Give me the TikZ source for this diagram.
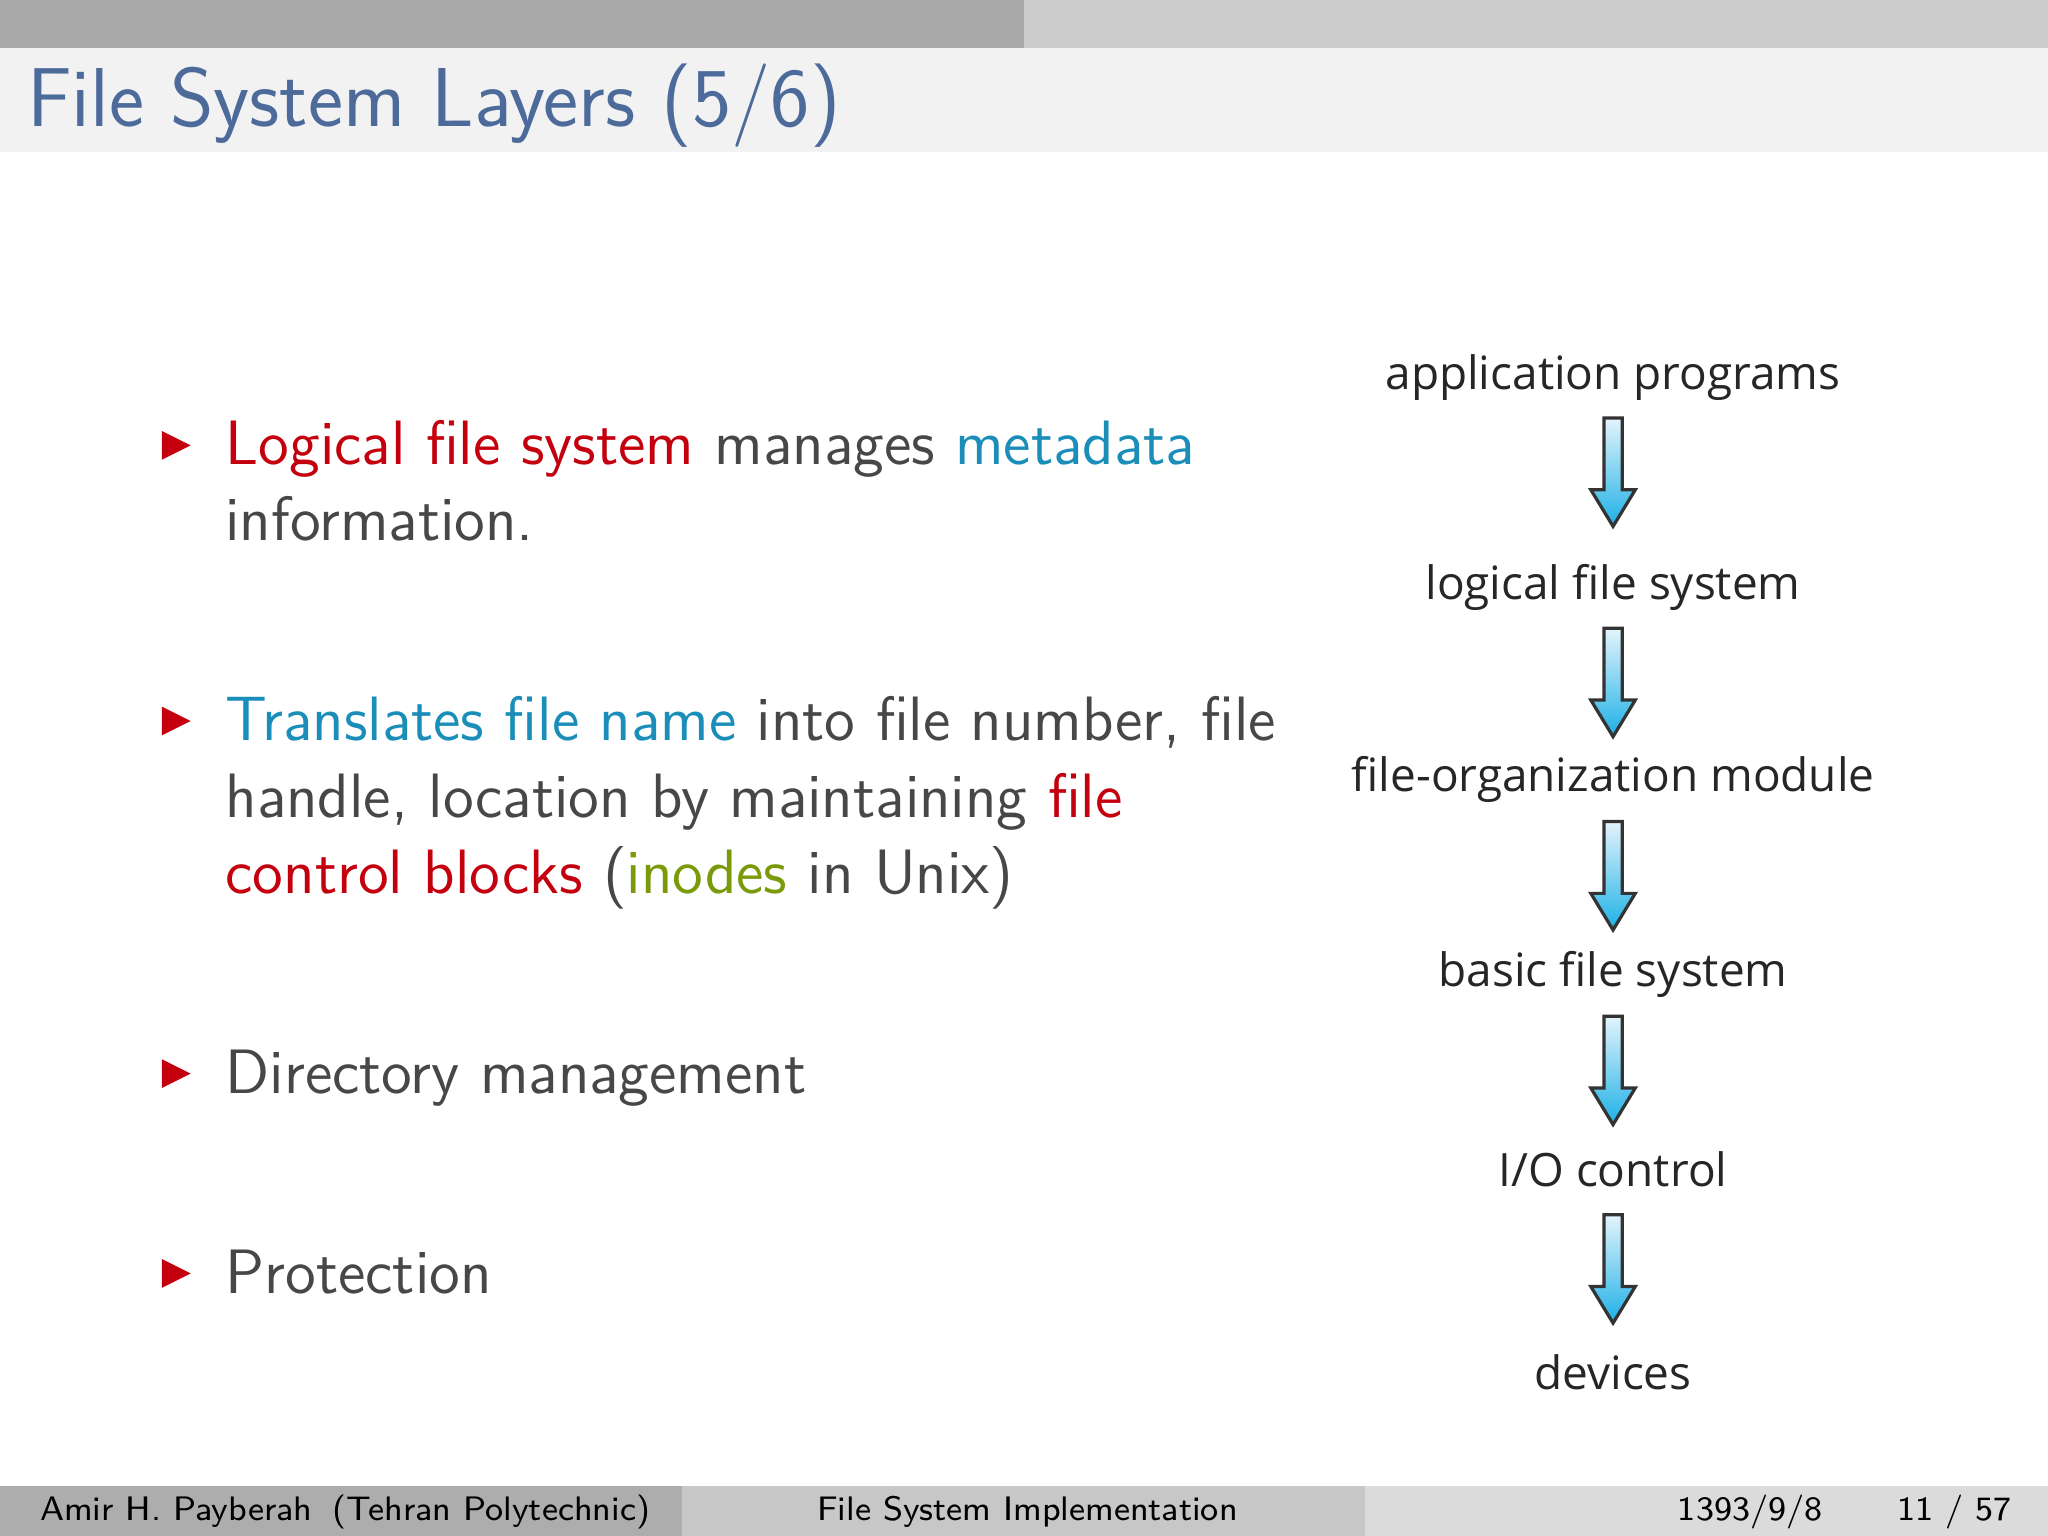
\documentclass[tikz,border=0pt]{standalone}
\usepackage{fontspec}
\newfontfamily\diag{Open Sans}
\begin{document}
\begin{tikzpicture}[x=0.01cm,y=-0.01cm,
  body/.style={anchor=base west,inner sep=0,font=\sffamily\fontsize{13.65}{16}\selectfont,text=black!72},
  lab/.style={inner sep=0,font=\diag\fontsize{10}{12}\selectfont,text=black!85},
  foot/.style={inner sep=0,anchor=base west,font=\sffamily\fontsize{7.4}{9}\selectfont,text=black},
  bul/.style={fill=red!80!black}]
\definecolor{tred}{HTML}{C4000F}
\definecolor{tblue}{HTML}{1A8EB8}
\definecolor{tgreen}{HTML}{7A9A0A}
\definecolor{ttitle}{HTML}{4D6B9A}
\definecolor{atop}{HTML}{E4F4FC}
\definecolor{abot}{HTML}{1CB0E6}
\useasboundingbox (0,0) rectangle (1568,1176);
\fill[white] (0,0) rectangle (1568,1176);
\fill[black!34] (0,0) rectangle (784,37);
\fill[black!20] (784,0) rectangle (1568,37);
\fill[black!5] (0,37) rectangle (1568,116);
\node[anchor=base west,inner sep=0,font=\sffamily\fontsize{18.2}{20}\selectfont,text=ttitle] (title) at (20,97) {File System Layers (5/6)};
% footer
\fill[black!32] (0,1138) rectangle (522,1176);
\fill[black!22] (522,1138) rectangle (1045,1176);
\fill[black!14] (1045,1138) rectangle (1568,1176);
\node[foot] (f1) at (30,1164) {Amir H. Payberah\hspace{0.6em}(Tehran Polytechnic)};
\node[foot] (f2) at (625,1164) {File System Implementation};
\node[foot] (f3) at (1284,1164) {1393/9/8\hspace{2.2em}11 / 57};
% bullets
\foreach \y/\n in {341/b1,552/b2,822/b3,975/b4}
  \fill[tred] (124,\y-11) -- (146,\y) -- (124,\y+11) -- cycle;
\node[body] (l1) at (172,356) {\textcolor{tred}{Logical file system} manages \textcolor{tblue}{metadata}};
\node[body] (l2) at (172,414) {information.};
\node[body] (l3) at (172,567) {\textcolor{tblue}{Translates file name} into file number, file};
\node[body] (l4) at (172,626) {handle, location by maintaining \textcolor{tred}{file}};
\node[body] (l5) at (172,684) {\textcolor{tred}{control blocks} (\textcolor{tgreen}{inodes} in Unix)};
\node[body] (l6) at (172,837) {Directory management};
\node[body] (l7) at (172,990) {Protection};
% diagram
\node[lab] (n1) at (1235,289) {application programs};
\node[lab] (n2) at (1235,450) {logical file system};
\node[lab] (n3) at (1235,597) {file-organization module};
\node[lab] (n4) at (1235,746) {basic file system};
\node[lab] (n5) at (1235,895) {I/O control};
\node[lab] (n6) at (1235,1051) {devices};
\foreach \t in {320,481,629,778,930}{
  \shade[top color=atop,bottom color=abot,draw=black!80,line width=0.7pt]
   (1228,\t) -- (1242,\t) -- (1242,\t+55) -- (1252,\t+55) -- (1235,\t+83) -- (1218,\t+55) -- (1228,\t+55) -- cycle;
}
\end{tikzpicture}
\end{document}
